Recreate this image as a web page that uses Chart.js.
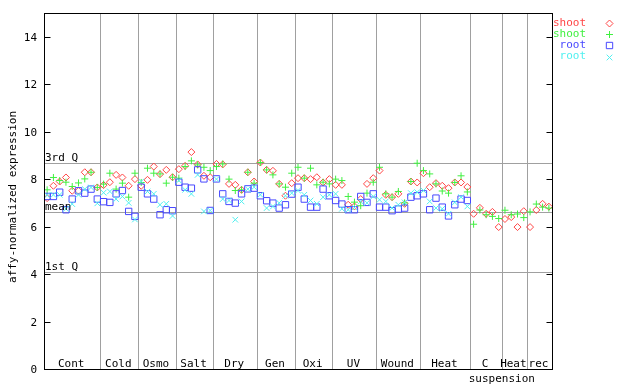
<!DOCTYPE html>
<html>
<head>
<meta charset="utf-8">
<script src="https://cdn.jsdelivr.net/npm/chart.js@4.4.1/dist/chart.umd.min.js"></script>
<style>
    html, body { margin: 0; padding: 0; background: #fff; }
    #wrap { width: 640px; height: 384px; }
</style>
</head>
<body>
<div id="wrap"><canvas id="chart" width="640" height="384"></canvas></div>
<script>
// groups along the x axis and how many samples each holds
const groups = ["Cont", "Cold", "Osmo", "Salt", "Dry", "Gen", "Oxi", "UV", "Wound", "Heat", "C", "Heat", "rec"];
const groupSizes = [9, 6, 6, 6, 7, 6, 6, 7, 7, 8, 5, 4, 4];
const yTicks = [0, 2, 4, 6, 8, 10, 12, 14];
const refLabels = ["3rd Q", "mean", "1st Q"];
const refValues = [8.67, 6.61, 4.1];

const shootA = [
    7.2, 7.72, 7.9, 8.07, 7.51, 7.51, 8.29, 8.29, 7.65,
    7.75, 7.87, 8.18, 8.07, 7.72, 8.0,
    7.72, 7.97, 8.53, 8.21, 8.39, 8.08,
    8.42, 8.56, 9.14, 8.62, 8.14, 8.08,
    8.64, 8.62, 7.8, 7.76, 7.55, 8.29, 7.9,
    8.7, 8.39, 8.35, 7.8, 7.3, 7.83,
    8.04, 8.04, 8.0, 8.08, 7.86, 8.0,
    7.76, 7.76, 6.92, 6.85, 7.16, 7.8, 8.04,
    8.36, 7.34, 7.24, 7.38, 6.96, 7.9, 7.86,
    8.25, 7.66, 7.83, 7.72, 7.62, 7.86, 7.86, 7.67,
    6.54, 6.79, 6.54, 6.62, 5.98,
    6.32, 6.4, 5.98, 6.65,
    5.98, 6.7, 6.96, 6.84
];
const shootB = [
    7.55, 8.07, 7.94, 7.87, 7.69, 7.84, 8.01, 8.29, 7.65,
    7.79, 8.25, 7.58, 7.83, 7.24, 8.25,
    7.86, 8.46, 8.25, 8.22, 7.83, 8.08,
    8.04, 8.53, 8.77, 8.6, 8.5, 8.36,
    8.53, 8.64, 8.0, 7.52, 7.55, 8.29, 7.83,
    8.7, 8.39, 8.18, 7.8, 7.66, 8.25,
    8.5, 8.04, 8.46, 7.76, 7.87, 7.8,
    8.0, 7.94, 7.27, 7.03, 6.88, 7.41, 7.87,
    8.5, 7.38, 7.24, 7.48, 7.0, 7.9, 8.67,
    8.36, 8.22, 7.8, 7.5, 7.41, 7.86, 8.14, 7.46,
    6.1, 6.7, 6.5, 6.43, 6.34,
    6.69, 6.5, 6.53, 6.38,
    6.62, 6.95, 6.82, 6.78
];
const rootA = [
    7.27, 7.27, 7.45, 6.71, 7.16, 7.51, 7.41, 7.58, 7.16,
    7.05, 7.02, 7.38, 7.52, 6.64, 6.43,
    7.66, 7.38, 7.16, 6.5, 6.71, 6.67,
    7.87, 7.66, 7.62, 8.39, 8.01, 6.68,
    8.01, 7.38, 7.06, 6.99, 7.38, 7.59, 7.62,
    7.3, 7.09, 6.99, 6.78, 6.92, 7.37,
    7.66, 7.16, 6.82, 6.82, 7.58, 7.3,
    7.1, 6.95, 6.71, 6.71, 7.27, 7.02, 7.38,
    6.82, 6.82, 6.67, 6.74, 6.78, 7.24, 7.3,
    7.38, 6.71, 7.2, 6.82, 6.45, 6.92, 7.16, 7.1,
    null, null, null, null, null,
    null, null, null, null,
    null, null, null, null
];
const rootB = [
    7.32, 7.34, 7.34, 6.75, 6.95, 7.34, 7.58, 7.65, 6.98,
    7.43, 7.48, 7.16, 7.27, 7.0, 6.3,
    7.9, 7.48, 7.38, 6.92, 6.96, 6.45,
    7.94, 7.55, 7.38, 8.18, 6.64, 6.68,
    8.0, 7.16, 7.1, 6.29, 7.06, 7.58, 7.66,
    7.34, 6.78, 6.85, 7.0, 7.3, 7.41,
    7.52, 7.34, 7.1, 6.96, 7.24, 7.34,
    7.38, 6.75, 6.71, 6.8, 7.06, 7.0, 7.27,
    7.13, 7.06, 6.78, 6.92, 7.02, 7.41, 7.45,
    7.52, 7.06, 6.78, 6.75, 6.54, 7.02, 7.24, 6.85,
    null, null, null, null, null,
    null, null, null, null,
    null, null, null, null
];

const FONT = "11px 'DejaVu Sans Mono', monospace";
const total = groupSizes.reduce((a, b) => a + b, 0);

const series = [
    { label: "shoot", values: shootA, color: "#ff4545", style: "rectRot", radius: 3.5, order: 3 },
    { label: "shoot", values: shootB, color: "#40f040", style: "cross", radius: 3.5, order: 2 },
    { label: "root", values: rootA, color: "#4848ff", style: "rect", radius: 4.5, order: 1 },
    { label: "root", values: rootB, color: "#50f0f0", style: "crossRot", radius: 4, order: 0 },
];

const datasets = series.map((s) => ({
    label: s.label,
    data: s.values.map((v, i) => ({ x: i + 0.5, y: v })).filter((p) => p.y !== null),
    pointStyle: s.style,
    pointRadius: s.radius,
    pointBorderWidth: 1,
    pointBorderColor: s.color,
    pointBackgroundColor: "rgba(0,0,0,0)",
    order: s.order,
    showLine: false,
}));

const decorations = {
    id: "decorations",
    beforeDatasetsDraw(chart) {
        const { ctx, chartArea: a, scales: { x, y } } = chart;
        ctx.save();
        ctx.strokeStyle = "#a0a0a0";
        ctx.lineWidth = 1;
        let acc = 0;
        groupSizes.slice(0, -1).forEach((n) => {
            acc += n;
            const px = Math.round(x.getPixelForValue(acc)) + 0.5;
            ctx.beginPath();
            ctx.moveTo(px, a.top);
            ctx.lineTo(px, a.bottom);
            ctx.stroke();
        });
        refValues.forEach((v) => {
            const py = Math.round(y.getPixelForValue(v)) + 0.5;
            ctx.beginPath();
            ctx.moveTo(a.left, py);
            ctx.lineTo(a.right, py);
            ctx.stroke();
        });
        ctx.restore();
    },
    afterDraw(chart) {
        const { ctx, chartArea: a, scales: { x, y } } = chart;
        ctx.save();
        ctx.font = FONT;
        ctx.fillStyle = "#000";
        ctx.strokeStyle = "#000";
        ctx.lineWidth = 1;

        // frame
        const L = Math.round(a.left) + 0.5, R = Math.round(a.right) + 0.5;
        const T = Math.round(a.top) + 0.5, B = Math.round(a.bottom) + 0.5;
        ctx.strokeRect(L, T, R - L, B - T);

        // y ticks and labels
        ctx.textAlign = "right";
        ctx.textBaseline = "middle";
        yTicks.forEach((t) => {
            const py = Math.round(y.getPixelForValue(t)) + 0.5;
            ctx.beginPath();
            ctx.moveTo(L, py);
            ctx.lineTo(L + 6, py);
            ctx.moveTo(R - 6, py);
            ctx.lineTo(R, py);
            ctx.stroke();
            ctx.fillText(String(t), 37, py + 1);
        });

        // reference line labels
        ctx.textAlign = "left";
        ctx.textBaseline = "alphabetic";
        refValues.forEach((v, i) => {
            const py = y.getPixelForValue(v);
            ctx.fillText(refLabels[i], 45, py - 2);
        });

        // group names
        ctx.textAlign = "center";
        let acc = 0;
        groups.forEach((g, i) => {
            const c = x.getPixelForValue(acc + groupSizes[i] / 2);
            acc += groupSizes[i];
            ctx.fillText(g, c - 1, B - 3);
        });
        const suspStart = total - groupSizes.slice(-3).reduce((p, q) => p + q, 0);
        ctx.fillText("suspension", x.getPixelForValue(suspStart + 5), B + 12);

        // y title
        ctx.save();
        ctx.translate(13, (a.top + a.bottom) / 2 + 6);
        ctx.rotate(-Math.PI / 2);
        ctx.textBaseline = "middle";
        ctx.fillText("affy-normalized expression", 0, 0);
        ctx.restore();

        // legend
        ctx.textAlign = "right";
        ctx.textBaseline = "middle";
        series.forEach((s, i) => {
            const ly = 23 + i * 11.2;
            ctx.fillStyle = s.color;
            ctx.fillText(s.label, 586, ly);
            ctx.strokeStyle = s.color;
            ctx.fillStyle = "rgba(0,0,0,0)";
            Chart.helpers.drawPoint(ctx, {
                pointStyle: s.style,
                radius: s.radius,
                rotation: 0,
                borderWidth: 1,
            }, 609.5, Math.round(ly) + 0.5);
        });
        ctx.restore();
    },
};

const ctx = document.getElementById("chart").getContext("2d");
new Chart(ctx, {
    type: "scatter",
    data: { datasets },
    options: {
        responsive: false,
        animation: false,
        devicePixelRatio: 1,
        layout: { padding: { left: 44, right: 88, top: 13, bottom: 15 } },
        plugins: { legend: { display: false }, tooltip: { enabled: false } },
        scales: {
            x: { type: "linear", min: 0, max: total, display: false },
            y: { min: 0, max: 15, display: false },
        },
    },
    plugins: [decorations],
});
</script>
</body>
</html>
